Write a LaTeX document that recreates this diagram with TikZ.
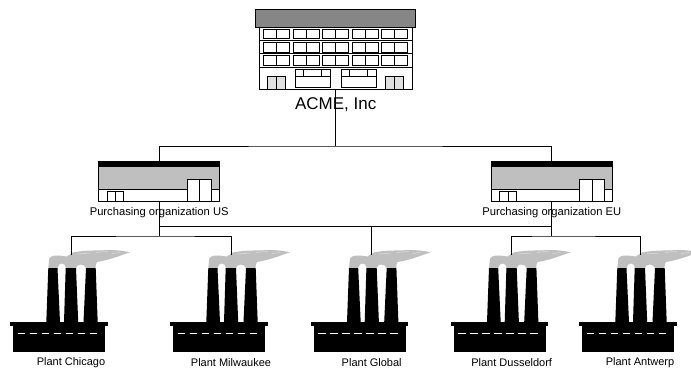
\documentclass[tikz,border=0pt]{standalone}
\usepackage{fontspec}
\setmainfont{Liberation Sans}
\begin{document}
\begin{tikzpicture}
[
x=1pt,y=-1pt,
line width=.8pt,
conn/.style={black,draw},
part/.style={draw,fill=white,line width=.7pt},
thin part/.style={draw,line width=.6pt},
roofgray/.style={fill=gray!95,draw},
wallgray/.style={fill=gray!50,draw},
smokegray/.style={fill=black!25},
plantlabel/.style={font=\fontsize{11}{12}\selectfont,inner sep=0pt},
orglabel/.style={font=\fontsize{11.2}{12}\selectfont,inner sep=0pt},
every node/.style={inner sep=0pt}
]
\useasboundingbox (0,0) rectangle (691,368);

% ---- head office
\filldraw[part] (259,27) rectangle (412,89);
\draw[roofgray] (255.5,9.5) rectangle (415.5,27);
\draw (259,40) -- (412,40) (259,53.5) -- (412,53.5) (259,67) -- (412,67);
\foreach \y/\h in {29.5/8.5,42.5/9.5,55.5/9.5} {
  \foreach \x in {0,...,4} {
    \draw[thin part] (263.5+29.5*\x,\y) rectangle ++(26,\h);
    \draw[thin part] (276.5+29.5*\x,\y) -- ++(0,\h);
  }
}
\foreach \x in {267.7,385.7} {
  \draw[thin part,fill=black!12] (\x,76) rectangle ++(17.5,13);
  \draw[thin part] (\x+8.5,76) -- ++(0,13);
}
\foreach \x in {295.5,341.7} {
  \draw[thin part] (\x,69.5) rectangle ++(34.3,18);
  \draw[thin part] (\x,76.7) -- ++(34.3,0);
  \draw[thin part] (\x+8,69.5) -- ++(0,7.2) (\x+25.7,69.5) -- ++(0,7.2);
}
\node (acme) at (335.7,89) {};
\node[font=\fontsize{17}{18}\selectfont] (acmetext) at (335.7,104.5) {ACME, Inc};

% ---- purchasing organizations
\foreach \i/\x/\name in {us/98.7/US,eu/491.3/EU} {
  \begin{scope}[xshift=\x]
    \filldraw[part] (0,166) rectangle (121,201.3);
    \draw[wallgray] (0,166) rectangle (121,189.3);
    \fill[black] (-.4,161) rectangle (121.4,166);
    \draw[part] (88.3,179.3) rectangle (113,201.3);
    \draw (100.6,179.3) -- (100.6,201.3);
    \draw[part] (8.3,191.7) rectangle (24.6,201.3);
    \draw[thin part] (16.6,191.7) -- (16.6,201.3);
    \node (org\i) at (60.5,181) {};
    \coordinate (org\i top) at (60.5,161);
    \coordinate (org\i bot) at (60.5,201.3);
    \coordinate (org\i bus) at (60.5,236);
    \coordinate (org\i link) at (60.5,226);
    \node[orglabel] (org\i text) at (60.5,213) {Purchasing organization \name};
  \end{scope}
}

% ---- plants
\foreach \i/\x/\name in {chi/0/Plant Chicago,mil/160/Plant Milwaukee,glo/300.7/Plant Global,
  dus/440.7/Plant Dusseldorf,ant/569/Plant Antwerp} {
  \begin{scope}[xshift=\x]
    \fill[smokegray] (57.5,268) .. controls (58,265) and (60,263.5) .. (61.7,263.5)
      .. controls (64,263.5) and (65.5,265) .. (66,268) -- (76,268)
      .. controls (76.5,266) and (78,264.5) .. (80.5,264.5)
      .. controls (83,264.5) and (85.5,266) .. (86,268) -- (95.5,268)
      .. controls (95.5,265) and (96,263) .. (97,262)
      .. controls (104,261) and (112,258.5) .. (118,256.5)
      .. controls (122,255) and (126,253.5) .. (130,252.3)
      .. controls (122,250.5) and (112,249.5) .. (103,250.3)
      .. controls (92,250.5) and (82,250.5) .. (73,252.5)
      .. controls (70,254) and (68,256) .. (66.7,256.5)
      .. controls (62,255.5) and (54,255) .. (51.5,256.5)
      .. controls (49.5,257.5) and (49,259) .. (49,261) -- (48.3,268) -- cycle;
    \draw[black!12,line width=.5pt] (78,254) -- (90,253) (96,252.5) -- (108,251.5) (112,253.5) -- (120,252.5);
    \foreach \ta/\tb/\ba/\bb in {48.3/57.5/46.3/60,65.7/76/64/78.2,86/95.7/83.5/97.7} {
      \fill[black] (\ta,268) -- (\tb,268) -- (\bb,322) -- (\ba,322) -- cycle;
    }
    \fill[black] (10.3,321.5) rectangle (107.7,326);
    \fill[black] (13.3,326) rectangle (105,351.7);
    \draw[white,line width=1.3pt,dash pattern=on 7.5pt off 4.5pt] (17.5,333.7) -- (99.5,333.7);
    \node (plant\i) at (71,255) {};
    \node[plantlabel] (plant\i text) at (71,363) {\name};
  \end{scope}
}

% ---- connections
\coordinate (top) at (335.7,146);
\draw[conn] (acme) -- (top);
\draw[conn] (orgustop) |- (top) -| (orgeutop);
\draw[conn] (orgusbot) -- (orgusbus);
\draw[conn] (orgeubot) -- (orgeubus);
\draw[conn] (orguslink) -- (orgeulink);
\draw[conn] (plantchi.center) |- (orgusbus) -| (plantmil.center);
\draw[conn] (plantdus.center) |- (orgeubus) -| (plantant.center);
\draw[conn] (plantglo.center) -- (plantglo.center |- orguslink);
\end{tikzpicture}
\end{document}
